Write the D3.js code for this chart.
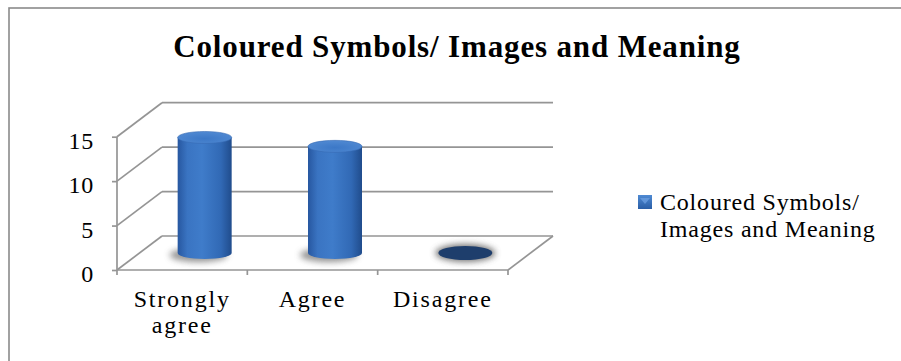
<!DOCTYPE html>
<html>
<head>
<meta charset="utf-8">
<script src="https://cdn.jsdelivr.net/npm/d3@7"></script>
<style>
  body { margin: 0; background: #fff; }
  svg { display: block; }
</style>
</head>
<body>
<svg id="chart" width="901" height="361"></svg>
<script>
// Survey responses
const chartTitle = "Coloured Symbols/ Images and Meaning";
const seriesName = "Coloured Symbols/ Images and Meaning";
const categories = ["Strongly agree", "Agree", "Disagree"];
const values = [13, 12, 0];
const yTicks = [0, 5, 10, 15];

const serif = "'Liberation Serif', 'Times New Roman', serif";
const svg = d3.select("#chart");
const defs = svg.append("defs");

// chart frame
svg.append("rect")
  .attr("x", 9).attr("y", 8).attr("width", 1000).attr("height", 1000)
  .attr("fill", "#fff").attr("stroke", "#8a8a8a").attr("stroke-width", 1.6);

// 3D plot geometry: front plane plus depth offset to the back wall
const depth = { dx: 45, dy: -34 };
const x = d3.scaleBand().domain(categories).range([117, 508]);
const y = d3.scaleLinear().domain([0, 15]).range([270, 136.7]);
const gridColor = "#959595";

// gradients for the cylinders
const bodyGrad = defs.append("linearGradient").attr("id", "body").attr("x1", 0).attr("x2", 1).attr("y1", 0).attr("y2", 0);
[["0%", "#2757a0"], ["18%", "#3a74c2"], ["45%", "#3f7cca"], ["80%", "#3169b5"], ["100%", "#204c8c"]]
  .forEach(([o, c]) => bodyGrad.append("stop").attr("offset", o).attr("stop-color", c));
const topGrad = defs.append("radialGradient").attr("id", "top").attr("cx", "50%").attr("cy", "60%").attr("r", "60%");
[["0%", "#3c78c7"], ["100%", "#5089d2"]]
  .forEach(([o, c]) => topGrad.append("stop").attr("offset", o).attr("stop-color", c));
const legGrad = defs.append("linearGradient").attr("id", "leg").attr("x1", 0).attr("x2", 0).attr("y1", 0).attr("y2", 1);
[["0%", "#4f8ad3"], ["100%", "#2a5ea6"]]
  .forEach(([o, c]) => legGrad.append("stop").attr("offset", o).attr("stop-color", c));
defs.append("filter").attr("id", "blur").attr("x", "-50%").attr("y", "-100%").attr("width", "200%").attr("height", "300%")
  .append("feGaussianBlur").attr("stdDeviation", 3);

const grid = svg.append("g").attr("stroke", gridColor).attr("stroke-width", 1.7).attr("fill", "none");
const x0 = x.range()[0], x1 = x.range()[1];

// side wall and back wall gridlines
yTicks.forEach(t => {
  grid.append("line").attr("x1", x0).attr("y1", y(t)).attr("x2", x0 + depth.dx).attr("y2", y(t) + depth.dy);
  grid.append("line").attr("x1", x0 + depth.dx).attr("y1", y(t) + depth.dy).attr("x2", x1 + depth.dx).attr("y2", y(t) + depth.dy);
});
// floor right edge
grid.append("line").attr("x1", x1).attr("y1", y(0)).attr("x2", x1 + depth.dx).attr("y2", y(0) + depth.dy);
// floor front edge (category axis) and value axis
grid.append("line").attr("x1", x0).attr("y1", y(0)).attr("x2", x1).attr("y2", y(0));
grid.append("line").attr("x1", x0).attr("y1", y(0)).attr("x2", x0).attr("y2", y(15));
// category boundary ticks
const bounds = categories.map(c => x(c)).concat([x1]);
bounds.forEach(b => grid.append("line").attr("x1", b).attr("y1", y(0)).attr("x2", b).attr("y2", y(0) + 5));

// value axis labels and ticks
const yAxis = svg.append("g").attr("transform", `translate(${x0},0)`)
  .call(d3.axisLeft(y).tickValues(yTicks).tickSize(5).tickPadding(18).tickFormat(d3.format("d")));
yAxis.attr("font-family", serif).attr("font-size", 24);
yAxis.select(".domain").remove();
yAxis.selectAll(".tick line").attr("stroke", gridColor).attr("stroke-width", 1.7);
yAxis.selectAll(".tick text").attr("dy", "0.48em").attr("letter-spacing", 0.8);

// category labels, wrapped when wider than the band
const xAxis = svg.append("g").attr("transform", `translate(0,${y(0)})`)
  .call(d3.axisBottom(x).tickSize(0).tickPadding(0));
xAxis.attr("font-family", serif).attr("font-size", 24);
xAxis.select(".domain").remove();
xAxis.selectAll(".tick text").each(function (d) {
  const t = d3.select(this).text(null).attr("letter-spacing", 1.8).attr("y", 0).attr("dy", null);
  const words = d.split(" ");
  const lines = words.length > 1 && d.length > 10 ? words : [d];
  lines.forEach((w, i) => t.append("tspan").attr("x", 0).attr("y", 37 + i * 26).text(w));
});

// cylinders sit halfway back in the depth
const rx = 27, ry = 6;
const plot = svg.append("g");
categories.forEach((c, i) => {
  const cx = x(c) + x.bandwidth() / 2 + depth.dx / 2;
  const base = y(0) + depth.dy / 2;
  const top = y(values[i]) + depth.dy / 2;
  if (values[i] > 0) {
    plot.append("ellipse").attr("cx", cx - 6).attr("cy", base + 2).attr("rx", rx + 2).attr("ry", ry + 1)
      .attr("fill", "#666").attr("opacity", 0.7).attr("filter", "url(#blur)");
    plot.append("path")
      .attr("d", `M${cx - rx},${top} L${cx - rx},${base} A${rx},${ry} 0 0 0 ${cx + rx},${base} L${cx + rx},${top} Z`)
      .attr("fill", "url(#body)");
    plot.append("ellipse").attr("cx", cx).attr("cy", top).attr("rx", rx).attr("ry", ry)
      .attr("fill", "url(#top)").attr("stroke", "#3569b3").attr("stroke-width", 0.6);
  } else {
    plot.append("ellipse").attr("cx", cx).attr("cy", base).attr("rx", rx + 3).attr("ry", ry + 3)
      .attr("fill", "#555").attr("opacity", 0.8).attr("filter", "url(#blur)");
    plot.append("ellipse").attr("cx", cx).attr("cy", base).attr("rx", rx).attr("ry", ry + 1)
      .attr("fill", "#1e3e6c");
  }
});

// title
svg.append("text").attr("x", 457).attr("y", 57).attr("text-anchor", "middle")
  .attr("font-family", serif).attr("font-size", 31).attr("font-weight", "bold").attr("letter-spacing", 0.85)
  .text(chartTitle);

// legend
const legend = svg.append("g").attr("transform", "translate(638,195)");
legend.append("rect").attr("width", 14).attr("height", 14).attr("fill", "url(#leg)");
legend.append("path").attr("d", "M2,3 L12,3 L7,9 Z").attr("fill", "#6a9ee0").attr("opacity", 0.8);
const cut = seriesName.indexOf("/") + 1;
const legendLines = [seriesName.slice(0, cut), seriesName.slice(cut).trim()];
const lt = legend.append("text").attr("font-family", serif).attr("font-size", 24).attr("letter-spacing", 0.8);
legendLines.forEach((l, i) => lt.append("tspan").attr("x", 22).attr("y", 15 + i * 27).text(l));
</script>
</body>
</html>
